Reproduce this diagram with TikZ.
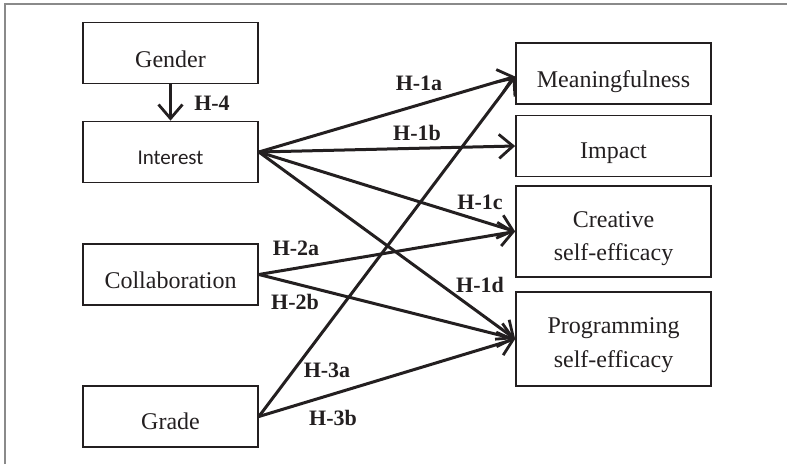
\documentclass[tikz,border=0pt]{standalone}
\usepackage{fontspec}
\setmainfont{Liberation Serif}
\newfontfamily\calibri{Carlito}
\usetikzlibrary{arrows.meta}
\definecolor{ink}{HTML}{231F20}
\definecolor{framegray}{HTML}{8A8A8A}
\tikzset{
  box/.style={draw=ink, line width=1.7pt, minimum width=175pt, minimum height=61pt, inner sep=0pt},
  rbox/.style={box, minimum width=195pt},
  btxt/.style={anchor=base, inner sep=0pt, font=\fontsize{24}{33}\selectfont, text=ink},
  hyp/.style={->, draw=ink, line width=3pt, >={Straight Barb[length=14pt,width=24pt,line width=2.8pt]}},
  hlab/.style={font=\bfseries\fontsize{22}{26}\selectfont, text=ink, inner sep=0pt}
}
\begin{document}
\begin{tikzpicture}[x=1pt,y=-1pt]
\useasboundingbox (0,0) rectangle (787,464);
\draw[framegray, line width=1.5pt] (5,464) -- (5,4) -- (787,4);
% left boxes
\node[box] (gender) at (170.5,53) {};
\node[box] (interest) at (170.5,152) {};
\node[box] (collab) at (170.5,274.5) {};
\node[box] (grade) at (170.5,416.5) {};
% right boxes
\node[rbox] (mean) at (613.5,73.5) {};
\node[rbox] (impact) at (613.5,146) {};
\node[rbox, minimum height=91pt] (creative) at (613.5,231.5) {};
\node[rbox, minimum height=94pt] (prog) at (613.5,339) {};
% box texts
\node[btxt] (genderT) at ([yshift=-14pt]gender.center) {Gender};
\node[btxt, font=\calibri\fontsize{21}{25}\selectfont] (interestT) at ([yshift=-12pt]interest.center) {Interest};
\node[btxt] (collabT) at ([yshift=-14pt]collab.center) {Collaboration};
\node[btxt] (gradeT) at ([yshift=-13pt]grade.center) {Grade};
\node[btxt] (meanT) at ([yshift=-13.5pt]mean.center) {Meaningfulness};
\node[btxt] (impactT) at ([yshift=-12.5pt]impact.center) {Impact};
\node[btxt] (creT1) at ([yshift=4.5pt]creative.center) {Creative};
\node[btxt] (creT2) at ([yshift=-28.5pt]creative.center) {self-efficacy};
\node[btxt] (progT1) at ([yshift=6pt]prog.center) {Programming};
\node[btxt] (progT2) at ([yshift=-28pt]prog.center) {self-efficacy};
% target coordinates
\coordinate (meanIn) at ([yshift=-3pt]mean.west);
% arrows
\draw[hyp] (gender.south) -- (interest.north);
\draw[hyp] (interest.east) -- (meanIn);
\draw[hyp] (interest.east) -- (impact.west);
\draw[hyp] (interest.east) -- (creative.west);
\draw[hyp] (interest.east) -- (prog.west);
\draw[hyp] (collab.east) -- (creative.west);
\draw[hyp] (collab.east) -- (prog.west);
\draw[hyp] (grade.east) -- (meanIn);
\draw[hyp] (grade.east) -- (prog.west);
% labels
\node[hlab] (l4) at (212,103) {H-4};
\node[hlab] (l1a) at (419,83) {H-1a};
\node[hlab] (l1b) at (417,133) {H-1b};
\node[hlab] (l1c) at (480,202) {H-1c};
\node[hlab] (l1d) at (480,285) {H-1d};
\node[hlab] (l2a) at (296,248) {H-2a};
\node[hlab] (l2b) at (295,302) {H-2b};
\node[hlab] (l3a) at (327,370) {H-3a};
\node[hlab] (l3b) at (333,418) {H-3b};
\end{tikzpicture}
\end{document}
